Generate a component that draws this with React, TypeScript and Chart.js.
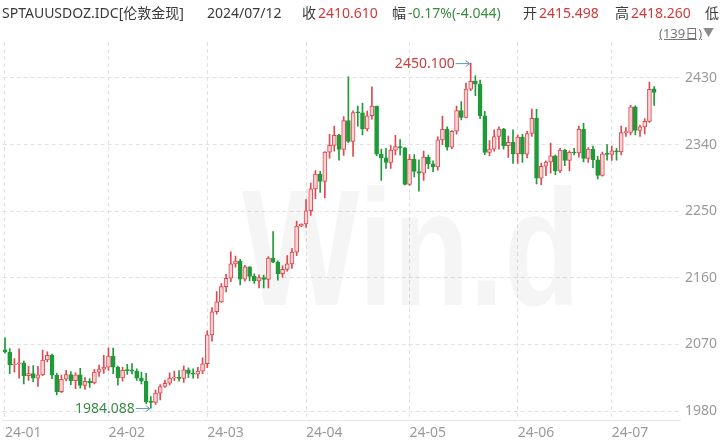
import React, { useEffect, useRef } from 'react';
import { Chart, registerables } from 'chart.js';

Chart.register(...registerables);

// ---- data (trading days 2024-01-02 .. 2024-07-12) ----
const dates = [
  '01-02','01-03','01-04','01-05','01-08','01-09','01-10','01-11','01-12','01-15','01-16','01-17','01-18','01-19','01-22','01-23','01-24','01-25','01-26','01-29','01-30','01-31',
  '02-01','02-02','02-05','02-06','02-07','02-08','02-09','02-12','02-13','02-14','02-15','02-16','02-19','02-20','02-21','02-22','02-23','02-26','02-27','02-28','02-29',
  '03-01','03-04','03-05','03-06','03-07','03-08','03-11','03-12','03-13','03-14','03-15','03-18','03-19','03-20','03-21','03-22','03-25','03-26','03-27','03-28','03-29',
  '04-01','04-02','04-03','04-04','04-05','04-08','04-09','04-10','04-11','04-12','04-15','04-16','04-17','04-18','04-19','04-22','04-23','04-24','04-25','04-26','04-29','04-30',
  '05-01','05-02','05-03','05-06','05-07','05-08','05-09','05-10','05-13','05-14','05-15','05-16','05-17','05-20','05-21','05-22','05-23','05-24','05-27','05-28','05-29','05-30','05-31',
  '06-03','06-04','06-05','06-06','06-07','06-10','06-11','06-12','06-13','06-14','06-17','06-18','06-19','06-20','06-21','06-24','06-25','06-26','06-27','06-28',
  '07-01','07-02','07-03','07-04','07-05','07-08','07-09','07-10','07-11','07-12',
];

const opens = [
  2062.9,2059.8,2042.3,2043.5,2045.2,2027.9,2030.6,2024.4,2028.9,2049.0,2055.4,2028.4,2006.3,2023.1,2029.3,2021.2,2029.1,2014.6,2020.3,2018.2,2032.6,2036.8,
  2039.5,2054.3,2039.5,2025.0,2035.2,2034.8,2034.0,2024.5,2020.3,1992.8,1991.9,2004.4,2013.3,2017.6,2024.6,2025.6,2024.2,2035.7,2031.0,2030.0,2034.0,
  2044.0,2082.9,2114.2,2127.6,2148.2,2159.5,2178.8,2182.5,2158.2,2174.9,2162.0,2155.9,2160.4,2157.9,2186.6,2181.1,2165.6,2171.5,2178.8,2194.7,2229.9,
  2232.8,2250.7,2280.2,2300.2,2290.2,2329.8,2339.0,2352.5,2333.5,2372.5,2344.4,2383.3,2383.0,2361.2,2379.0,2391.9,2327.0,2322.0,2316.0,2332.5,2337.5,2335.5,
  2286.3,2320.0,2303.7,2301.5,2323.2,2314.2,2309.8,2346.3,2360.5,2336.5,2358.0,2386.0,2376.8,2415.0,2425.5,2421.5,2379.0,2329.5,2334.0,2351.0,2360.9,2338.5,2343.2,
  2327.3,2350.0,2327.0,2355.0,2375.6,2294.5,2310.8,2316.5,2324.8,2304.3,2332.5,2318.8,2329.6,2328.7,2360.5,2321.5,2334.0,2319.5,2298.5,2327.5,
  2326.8,2331.5,2330.0,2356.2,2356.5,2391.0,2359.0,2364.0,2371.3,2415.498,
];

const highs = [
  2078.9,2064.6,2050.9,2064.0,2047.5,2040.6,2041.5,2040.4,2062.4,2060.1,2057.2,2031.0,2028.6,2035.0,2033.4,2031.6,2037.9,2025.4,2024.0,2036.6,2042.3,2055.3,
  2065.5,2065.0,2040.8,2039.0,2043.3,2044.3,2037.0,2032.6,2031.2,1999.5,2008.5,2016.0,2022.0,2031.6,2034.0,2034.9,2041.3,2038.4,2037.1,2039.0,2052.0,
  2088.3,2119.8,2141.5,2152.4,2164.7,2195.2,2189.4,2184.9,2177.0,2175.3,2165.3,2164.0,2163.9,2188.9,2222.5,2183.0,2176.3,2190.0,2199.5,2236.8,2233.0,
  2265.6,2288.0,2305.0,2304.0,2330.5,2354.0,2365.0,2354.0,2378.0,2431.5,2385.5,2392.0,2395.8,2385.3,2417.9,2392.0,2333.9,2335.1,2338.6,2352.6,2346.8,2336.0,
  2326.5,2326.5,2319.5,2331.4,2326.0,2318.2,2350.6,2378.5,2364.0,2359.0,2392.0,2398.0,2423.0,2450.1,2433.0,2427.0,2385.0,2345.5,2360.0,2364.0,2362.0,2351.5,2360.0,
  2353.0,2354.0,2358.0,2388.0,2387.5,2315.0,2318.0,2342.0,2326.0,2335.0,2334.0,2331.5,2335.0,2365.0,2368.8,2336.0,2338.0,2324.0,2330.0,2340.0,
  2338.0,2335.0,2365.0,2363.0,2393.0,2392.5,2366.0,2375.0,2424.6,2418.26,
];

const lows = [
  2058.4,2030.6,2032.6,2024.4,2016.7,2021.5,2019.9,2013.5,2027.9,2046.5,2023.7,2001.9,2005.0,2020.9,2015.6,2010.4,2010.9,2009.4,2011.9,2016.7,2026.8,2031.0,
  2035.0,2030.6,2014.9,2020.6,2029.5,2030.2,2021.4,2016.6,1990.0,1984.088,1989.0,1995.0,2012.0,2015.5,2021.0,2020.5,2018.8,2025.5,2024.5,2024.5,2030.7,
  2038.8,2074.5,2111.0,2126.8,2141.0,2154.8,2174.5,2150.4,2155.5,2155.8,2152.6,2146.5,2146.4,2146.5,2180.6,2157.0,2161.1,2169.0,2172.8,2189.9,2229.0,
  2228.0,2244.5,2267.0,2275.3,2268.0,2321.7,2331.0,2319.0,2325.5,2342.5,2324.0,2365.0,2353.0,2358.4,2374.5,2325.0,2291.5,2308.0,2307.8,2326.0,2325.8,2285.6,
  2285.0,2296.5,2277.2,2291.5,2307.5,2303.5,2305.3,2340.0,2332.5,2334.5,2354.0,2373.5,2376.0,2413.0,2406.0,2375.0,2326.3,2325.0,2331.0,2334.0,2334.0,2322.7,2314.5,
  2314.5,2316.0,2322.0,2351.0,2286.8,2286.0,2298.0,2301.5,2299.5,2302.0,2311.5,2304.5,2326.0,2323.0,2316.5,2316.0,2309.0,2293.5,2297.5,2319.0,
  2318.5,2319.0,2326.0,2351.0,2353.0,2353.0,2351.0,2354.5,2370.0,2393.0,
];

const closes = [
  2059.8,2042.3,2043.5,2045.2,2027.9,2030.6,2024.4,2028.9,2049.0,2055.4,2028.4,2006.3,2023.1,2029.3,2021.2,2029.1,2014.6,2020.3,2018.2,2032.6,2036.8,2039.5,
  2054.3,2039.5,2025.0,2035.2,2034.8,2034.0,2024.5,2020.3,1992.8,1991.9,2004.4,2013.3,2017.6,2024.6,2025.6,2024.2,2035.7,2031.0,2030.0,2034.0,2044.0,
  2082.9,2114.2,2127.6,2148.2,2159.5,2178.8,2182.5,2158.2,2174.9,2162.0,2155.9,2160.4,2157.9,2186.6,2181.1,2165.6,2171.5,2178.8,2194.7,2229.9,2232.8,
  2250.7,2280.2,2300.2,2290.2,2329.8,2339.0,2352.5,2333.5,2372.5,2344.4,2383.3,2383.0,2361.2,2379.0,2391.9,2327.0,2322.0,2316.0,2332.5,2337.5,2335.5,2286.3,
  2320.0,2303.7,2301.5,2323.2,2314.2,2309.8,2346.3,2360.5,2336.5,2358.0,2386.0,2376.8,2415.0,2425.5,2421.5,2379.0,2329.5,2334.0,2351.0,2360.9,2338.5,2343.2,2327.3,
  2350.0,2327.0,2355.0,2375.6,2294.5,2310.8,2316.5,2324.8,2304.3,2332.5,2318.8,2329.6,2328.7,2360.5,2321.5,2334.0,2319.5,2298.5,2327.5,2326.8,
  2331.5,2330.0,2356.2,2356.5,2391.0,2359.0,2364.0,2371.3,2414.654,2410.61,
];

const yTicks = [1980, 2070, 2160, 2250, 2340, 2430];
const monthLabels = ['24-01', '24-02', '24-03', '24-04', '24-05', '24-06', '24-07'];
const EXTRA_SLOTS = 5;

const FONT = '"Noto Sans", "Noto Sans CJK SC", sans-serif';
const UP = '#e0474f';
const UP_FILL = '#f8d3d5';
const DOWN = '#1f9a38';
const GRID = '#e2e2e2';

export default function App() {
  const ref = useRef<HTMLCanvasElement>(null);

  useEffect(() => {
    document.body.style.margin = '0';
    const canvas = ref.current;
    if (!canvas) return;
    const n = dates.length;
    const labels = [...dates, ...Array(EXTRA_SLOTS).fill('')];
    const monthStarts: number[] = [];
    dates.forEach((d, i) => {
      if (i === 0 || d.slice(0, 2) !== dates[i - 1].slice(0, 2)) monthStarts.push(i);
    });
    const labelAt: Record<number, string> = {};
    monthStarts.forEach((idx, k) => (labelAt[idx] = monthLabels[k]));
    const isUp = closes.map((c, i) => c >= opens[i]);
    const wick = dates.map((_, i) => [lows[i], highs[i]]);
    const body = dates.map((_, i) => [opens[i], closes[i]]);

    const watermark = {
      id: 'watermark',
      beforeDatasetsDraw(chart: any) {
        const ctx = chart.ctx;
        ctx.save();
        ctx.fillStyle = 'rgba(0,0,0,0.04)';
        ctx.font = `bold 165px "Liberation Sans", sans-serif`;
        ctx.textBaseline = 'alphabetic';
        const txt = 'Win.d';
        const w = ctx.measureText(txt).width;
        ctx.translate(242, 305);
        ctx.scale(338 / w, 1);
        ctx.fillText(txt, 0, 0);
        ctx.restore();
      },
    };

    const extremes = {
      id: 'extremes',
      afterDatasetsDraw(chart: any) {
        const ctx = chart.ctx;
        const xs = chart.scales.x;
        const ys = chart.scales.y;
        let hi = 0;
        let lo = 0;
        for (let i = 0; i < n; i++) {
          if (highs[i] > highs[hi]) hi = i;
          if (lows[i] < lows[lo]) lo = i;
        }
        const drawOne = (idx: number, val: number, color: string) => {
          const px = xs.getPixelForValue(idx);
          const py = ys.getPixelForValue(val);
          ctx.save();
          ctx.font = `14px ${FONT}`;
          ctx.fillStyle = color;
          ctx.textAlign = 'right';
          ctx.textBaseline = 'middle';
          ctx.fillText(val.toFixed(3), px - 16, py + 1);
          ctx.strokeStyle = '#5b9bb0';
          ctx.lineWidth = 1;
          ctx.beginPath();
          ctx.moveTo(px - 15, py + 0.5);
          ctx.lineTo(px - 1, py + 0.5);
          ctx.moveTo(px - 5, py - 2.5);
          ctx.lineTo(px - 1, py + 0.5);
          ctx.lineTo(px - 5, py + 3.5);
          ctx.stroke();
          ctx.restore();
        };
        drawOne(hi, highs[hi], '#c8403f');
        drawOne(lo, lows[lo], '#3a8a48');
      },
    };

    const chart = new Chart(canvas, {
      type: 'bar',
      data: {
        labels,
        datasets: [
          {
            label: 'body',
            data: body as any,
            backgroundColor: (c: any) => (isUp[c.dataIndex] ? UP_FILL : DOWN),
            borderColor: (c: any) => (isUp[c.dataIndex] ? UP : DOWN),
            borderWidth: 1,
            borderSkipped: false,
            barThickness: 4,
            minBarLength: 1,
            grouped: false,
            order: 1,
          } as any,
          {
            label: 'wick',
            data: wick as any,
            backgroundColor: (c: any) => (isUp[c.dataIndex] ? UP : DOWN),
            borderWidth: 0,
            barThickness: 1,
            grouped: false,
            order: 2,
          } as any,
        ],
      },
      options: {
        animation: false,
        responsive: false,
        devicePixelRatio: 1,
        layout: { padding: { top: 42, left: 0, right: 0, bottom: 0 } },
        plugins: { legend: { display: false }, tooltip: { enabled: false } },
        scales: {
          x: {
            type: 'category',
            offset: true,
            grid: { offset: false, color: GRID, drawTicks: false },
            border: { display: true, color: '#e6e6e6', dash: [4, 3] },
            ticks: {
              autoSkip: false,
              maxRotation: 0,
              align: 'start',
              padding: 5,
              color: '#9a9a9a',
              font: { size: 14, family: FONT },
              callback: (v: any) => labelAt[v] ?? '',
            },
            afterBuildTicks: (s: any) => {
              s.ticks = monthStarts.map((i) => ({ value: i }));
            },
            afterFit: (s: any) => {
              s.height = 25;
            },
          } as any,
          y: {
            position: 'right',
            min: 1968,
            max: 2478.6,
            grid: { color: GRID, drawTicks: false },
            border: { display: false, dash: [4, 3] },
            ticks: {
              padding: 5,
              color: '#9a9a9a',
              font: { size: 14, family: FONT },
              callback: (v: any) => String(v),
            },
            afterBuildTicks: (s: any) => {
              s.ticks = yTicks.map((v) => ({ value: v }));
            },
            afterFit: (s: any) => {
              s.width = 43;
            },
          } as any,
        },
      },
      plugins: [watermark, extremes],
    });
    return () => chart.destroy();
  }, []);

  const hs: React.CSSProperties = {
    position: 'absolute',
    top: 4,
    fontSize: 14,
    lineHeight: '18px',
    fontFamily: FONT,
    whiteSpace: 'nowrap',
    color: '#3a3a3a',
  };
  const red = '#d0393b';
  const green = '#3b8c3f';

  return (
    <div style={{ position: 'fixed', left: 0, top: 0, width: 723, height: 445, background: '#fff', overflow: 'hidden' }}>
      <canvas ref={ref} width={723} height={445} style={{ position: 'absolute', left: 0, top: 0 }} />
      <span style={{ ...hs, left: 2 }}>SPTAUUSDOZ.IDC[伦敦金现]</span>
      <span style={{ ...hs, left: 207 }}>2024/07/12</span>
      <span style={{ ...hs, left: 302 }}>收</span>
      <span style={{ ...hs, left: 318, color: red }}>2410.610</span>
      <span style={{ ...hs, left: 392 }}>幅</span>
      <span style={{ ...hs, left: 408, color: green }}>-0.17%(-4.044)</span>
      <span style={{ ...hs, left: 523 }}>开</span>
      <span style={{ ...hs, left: 539, color: red }}>2415.498</span>
      <span style={{ ...hs, left: 615 }}>高</span>
      <span style={{ ...hs, left: 631, color: red }}>2418.260</span>
      <span style={{ ...hs, left: 705 }}>低</span>
      <span style={{ ...hs, top: 24, left: 659, fontSize: 13, color: '#777', textDecoration: 'underline' }}>(139日)</span>
      <span style={{ ...hs, top: 24, left: 703, fontSize: 11, color: '#8a8a8a' }}>▼</span>
    </div>
  );
}
